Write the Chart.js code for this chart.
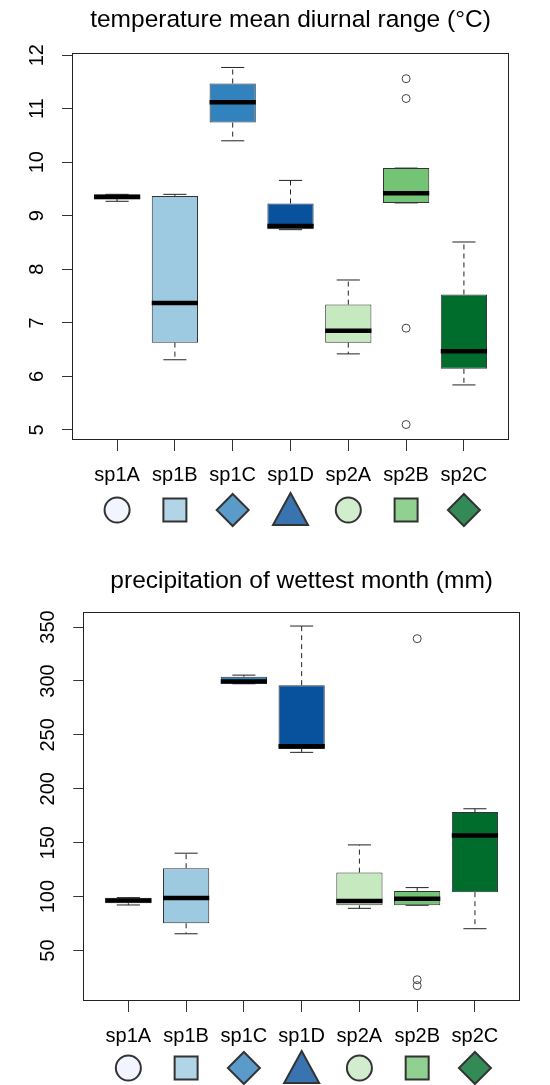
<!DOCTYPE html>
<html><head><meta charset="utf-8">
<script src="https://cdn.jsdelivr.net/npm/chart.js@4.4.1/dist/chart.umd.min.js"></script>
<style>
html,body{margin:0;padding:0;background:#fff;}
canvas{display:block;}
</style></head><body>
<canvas id="tempChart" width="550" height="545"></canvas>
<canvas id="precChart" width="550" height="540"></canvas>
<script>
// groups
const categories=["sp1A","sp1B","sp1C","sp1D","sp2A","sp2B","sp2C"];

// temperature mean diurnal range (°C)
const tempMin=[9.27,6.31,10.40,8.74,6.42,9.24,5.84];
const tempQ1 =[9.31,6.63,10.74,8.75,6.63,9.24,6.14];
const tempMed=[9.35,7.37,11.12,8.81,6.85,9.42,6.47];
const tempQ3 =[9.40,9.37,11.47,9.23,7.34,9.89,7.53];
const tempMax=[9.40,9.40,11.77,9.66,7.80,9.89,8.51];
const tempOut=[[],[],[],[],[],[11.56,11.19,6.90,5.10],[]];
const tempTicks=[5,6,7,8,9,10,11,12];
const tempRange=[4.83,12.04];

// precipitation of wettest month (mm)
const precMin=[92.3,65.6,297.4,233.8,89.2,92.0,70.3];
const precQ1 =[93.9,75.3,297.4,237.0,92.0,92.0,104.1];
const precMed=[96.5,98.8,299.5,239.4,96.0,98.1,156.7];
const precQ3 =[99.1,126.4,303.9,296.1,122.3,105.3,178.4];
const precMax=[99.1,140.3,305.4,350.9,148.0,108.4,181.5];
const precOut=[[],[],[],[],[],[339.2,23.0,17.5],[]];
const precTicks=[50,100,150,200,250,300,350];
const precRange=[4.2,364.2];

const boxColors=["#EFF3FF","#9ECAE1","#3182BD","#08519C","#C7E9C0","#74C476","#006D2C"];
const shapes=["circle","square","diamond","triangle","circle","square","diamond"];

const FONT="'Liberation Sans', Arial, sans-serif";

function fade(hex,a){
let r=parseInt(hex.slice(1,3),16),g=parseInt(hex.slice(3,5),16),b=parseInt(hex.slice(5,7),16);
return "rgba("+r+","+g+","+b+","+a+")";
}

// half width in px of a span of u category units
function halfPx(chart,u){
let s=chart.scales.x;
return Math.abs(s.getPixelForValue(1+u)-s.getPixelForValue(1));
}

const extras={
id:"extras",
afterDraw(chart,args,o){
let ctx=chart.ctx,a=chart.chartArea,x=chart.scales.x,y=chart.scales.y;
ctx.save();
// frame
ctx.strokeStyle="#222";
ctx.lineWidth=1;
ctx.strokeRect(Math.round(a.left)+0.5,Math.round(a.top)+0.5,Math.round(a.right-a.left)-1,Math.round(a.bottom-a.top));
// title
ctx.fillStyle="#000";
ctx.font="24.5px "+FONT;
ctx.textAlign="center";
ctx.textBaseline="middle";
ctx.fillText(o.title,(a.left+a.right)/2,o.titleY);
// rotated y labels
ctx.font="20px "+FONT;
y.ticks.forEach(t=>{
let py=y.getPixelForValue(t.value);
ctx.save();
ctx.translate(a.left-35,py);
ctx.rotate(-Math.PI/2);
ctx.fillText(String(t.value),0,0);
ctx.restore();
});
// group symbols
let sy=a.bottom+o.symY;
ctx.lineWidth=2;
ctx.strokeStyle="#333";
categories.forEach((c,i)=>{
let px=x.getPixelForValue(i+1);
ctx.fillStyle=fade(boxColors[i],0.8);
ctx.beginPath();
let s=shapes[i];
if(s==="circle") ctx.arc(px,sy,12.5,0,Math.PI*2);
if(s==="square") ctx.rect(px-11.5,sy-11.5,23,23);
if(s==="diamond"){ctx.moveTo(px,sy-16);ctx.lineTo(px+16,sy);ctx.lineTo(px,sy+16);ctx.lineTo(px-16,sy);ctx.closePath();}
if(s==="triangle"){ctx.moveTo(px,sy-17);ctx.lineTo(px+17.5,sy+15);ctx.lineTo(px-17.5,sy+15);ctx.closePath();}
ctx.fill();
ctx.stroke();
});
ctx.restore();
}
};

function makeChart(id,mins,q1,med,q3,maxs,outs,ticks,range,o){

let boxes=categories.map((c,i)=>({x:i+1,y:[q1[i],q3[i]]}));
let medians=categories.map((c,i)=>({x:i+1,y:med[i]}));
let staples=[];
let whiskers=[];
categories.forEach((c,i)=>{
staples.push({x:i+1,y:mins[i]},{x:i+1,y:maxs[i]});
whiskers.push({x:i+1,y:q3[i]},{x:i+1,y:maxs[i]},{x:i+1,y:null});
whiskers.push({x:i+1,y:q1[i]},{x:i+1,y:mins[i]},{x:i+1,y:null});
});
let outliers=[];
outs.forEach((list,i)=>list.forEach(v=>outliers.push({x:i+1,y:v})));

return new Chart(document.getElementById(id),{
data:{
datasets:[
{type:"line",data:whiskers,order:3,borderColor:"#222",borderWidth:1,borderDash:[5,4],pointRadius:0,spanGaps:false,fill:false},
{type:"scatter",data:staples,order:3,pointStyle:"line",borderColor:"#222",borderWidth:1,pointRadius:ctx=>halfPx(ctx.chart,0.2)},
{type:"bar",data:boxes,order:2,backgroundColor:boxColors,borderColor:"#333",borderWidth:1,borderSkipped:false,barPercentage:0.8,categoryPercentage:1},
{type:"scatter",data:medians,order:1,pointStyle:"line",borderColor:"#000",borderWidth:4.5,pointRadius:ctx=>halfPx(ctx.chart,0.4)},
{type:"scatter",data:outliers,order:0,pointStyle:"circle",pointRadius:4,borderColor:"#444",borderWidth:1,backgroundColor:"rgba(0,0,0,0)"}
]
},
options:{
responsive:false,
animation:false,
events:[],
devicePixelRatio:1,
layout:{padding:o.pad},
plugins:{legend:{display:false},tooltip:{enabled:false},extras:o},
scales:{
x:{
type:"linear",
offset:false,
min:0.22,max:7.78,
afterBuildTicks:s=>{s.ticks=categories.map((c,i)=>({value:i+1}));},
afterFit:s=>{s.height=o.xh;},
grid:{offset:false,drawOnChartArea:false,drawTicks:true,tickLength:12,color:"#333"},
border:{display:false},
ticks:{autoSkip:false,maxRotation:0,minRotation:0,padding:12,color:"#000",font:{family:FONT,size:20},callback:v=>categories[v-1]}
},
y:{
type:"linear",
min:range[0],max:range[1],
afterBuildTicks:s=>{s.ticks=ticks.map(v=>({value:v}));},
afterFit:s=>{s.width=o.yw;},
grid:{drawOnChartArea:false,drawTicks:true,tickLength:10,color:"#333"},
border:{display:false},
ticks:{display:false}
}
}
},
plugins:[extras]
});

}

makeChart("tempChart",tempMin,tempQ1,tempMed,tempQ3,tempMax,tempOut,tempTicks,tempRange,
{title:"temperature mean diurnal range (°C)",titleY:20,symY:71,pad:{top:53,right:41,left:0,bottom:0},yw:72,xh:106});

makeChart("precChart",precMin,precQ1,precMed,precQ3,precMax,precOut,precTicks,precRange,
{title:"precipitation of wettest month (mm)",titleY:36.7,symY:68,pad:{top:66.7,right:30,left:0,bottom:0},yw:83.3,xh:85});
</script>
</body></html>
